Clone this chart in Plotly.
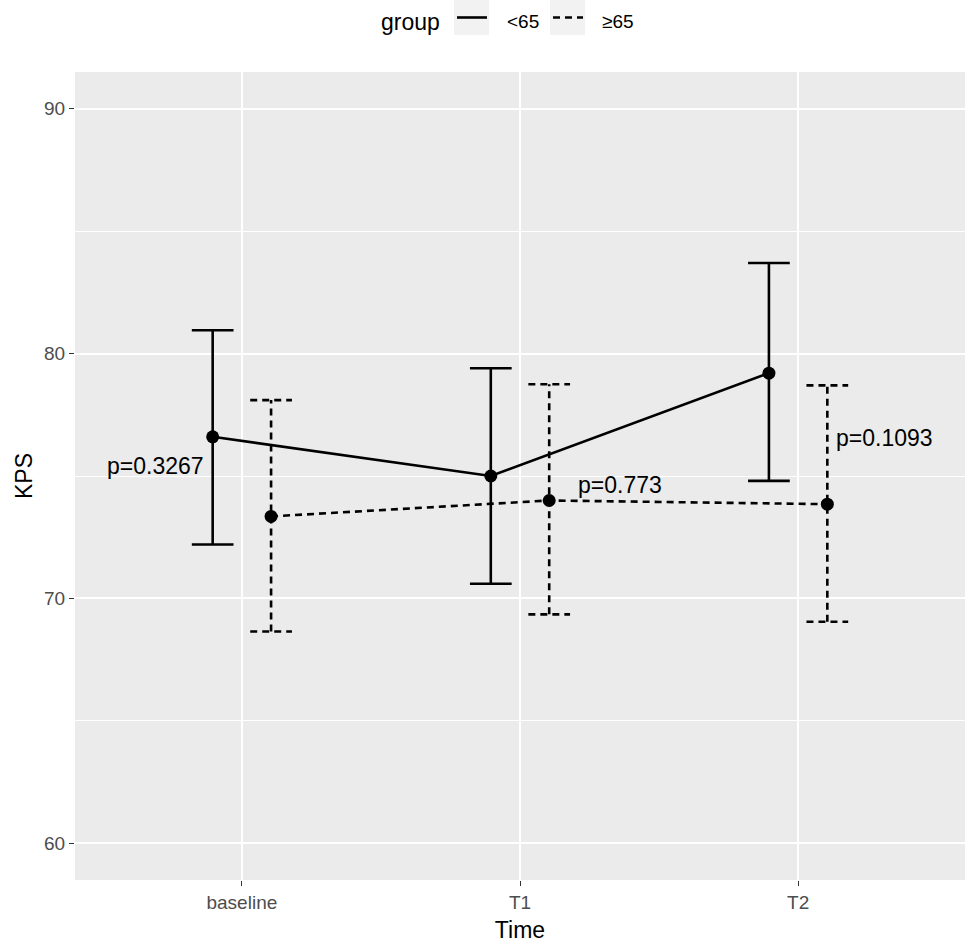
import plotly.graph_objects as go

# ---- data ----
time_labels = ["baseline", "T1", "T2"]
groups = ["<65", "≥65"]
mean_lt65 = [76.6, 75.0, 79.2]
upper_lt65 = [80.95, 79.4, 83.7]
lower_lt65 = [72.2, 70.6, 74.8]
mean_ge65 = [73.35, 74.0, 73.85]
upper_ge65 = [78.1, 78.75, 78.7]
lower_ge65 = [68.65, 69.35, 69.05]
p_labels = ["p=0.3267", "p=0.773", "p=0.1093"]
p_x = [0.69, 2.36, 3.31]
p_y = [75.4, 74.65, 76.55]
legend_title = "group"

dodge = 0.105
cap_half = 0.075
LW = 2.6
DASH = "7px,5px"
FONT = "Liberation Sans, Arial, sans-serif"

# plot-area geometry (pixels)
W, H = 969, 944
ML, MR, MT, MB = 75, 4, 72, 64
PW, PH = W - ML - MR, H - MT - MB


def px(xp):
    return (xp - ML) / PW


def py(yp):
    return (H - MB - yp) / PH


x_idx = [i + 1 for i in range(len(time_labels))]

fig = go.Figure()


def errorbar_xy(xs, lo, hi):
    ex, ey = [], []
    for x, l, h in zip(xs, lo, hi):
        ex += [x, x, None, x - cap_half, x + cap_half, None, x - cap_half, x + cap_half, None]
        ey += [l, h, None, h, h, None, l, l, None]
    return ex, ey


series = [
    (groups[0], mean_lt65, lower_lt65, upper_lt65, -dodge, "solid"),
    (groups[1], mean_ge65, lower_ge65, upper_ge65, dodge, DASH),
]

for name, m, lo, hi, off, dash in series:
    xs = [x + off for x in x_idx]
    ex, ey = errorbar_xy(xs, lo, hi)
    fig.add_trace(go.Scatter(x=ex, y=ey, mode="lines", showlegend=False,
                             line=dict(color="black", width=LW, dash=dash),
                             hoverinfo="skip"))
    fig.add_trace(go.Scatter(x=xs, y=m, mode="lines", name=name, showlegend=False,
                             line=dict(color="black", width=LW, dash=dash)))
    fig.add_trace(go.Scatter(x=xs, y=m, mode="markers", showlegend=False, name=name,
                             marker=dict(color="black", size=13)))

for t, x, y in zip(p_labels, p_x, p_y):
    fig.add_annotation(x=x, y=y, text=t, showarrow=False, xref="x", yref="y",
                       font=dict(size=23, color="black", family=FONT))

# ---- manual ggplot-style legend at the top ----
fig.add_annotation(x=px(379), y=py(22), xref="paper", yref="paper", text=legend_title,
                   showarrow=False, xanchor="left", yanchor="middle",
                   font=dict(size=23, color="black", family=FONT))
legend_items = [(groups[0], "solid", 454, 505), (groups[1], DASH, 550, 600)]
for label, dash, kx, tx in legend_items:
    fig.add_shape(type="rect", xref="paper", yref="paper",
                  x0=px(kx), x1=px(kx + 35), y0=py(35), y1=py(0),
                  fillcolor="#F2F2F2", line=dict(width=0), layer="below")
    fig.add_shape(type="line", xref="paper", yref="paper",
                  x0=px(kx + 3), x1=px(kx + 33), y0=py(17.5), y1=py(17.5),
                  line=dict(color="black", width=LW, dash=dash))
    fig.add_annotation(x=px(tx), y=py(21), xref="paper", yref="paper", text=label,
                       showarrow=False, xanchor="left", yanchor="middle",
                       font=dict(size=19, color="black", family=FONT))

fig.update_layout(
    width=W, height=H,
    margin=dict(l=ML, r=MR, t=MT, b=MB, autoexpand=False),
    paper_bgcolor="white",
    plot_bgcolor="#EBEBEB",
    font=dict(family=FONT, color="black"),
    showlegend=False,
    xaxis=dict(range=[0.4, 3.6], tickvals=x_idx, ticktext=time_labels,
               showgrid=True, gridcolor="white", gridwidth=1.6, zeroline=False,
               ticks="outside", ticklen=5, tickcolor="#333333", tickwidth=1.3,
               tickfont=dict(size=19, color="#4D4D4D"),
               title=dict(text="Time", font=dict(size=23, color="black"), standoff=10)),
    yaxis=dict(range=[58.5, 91.5], tickvals=[60, 70, 80, 90],
               showgrid=True, gridcolor="white", gridwidth=1.6, zeroline=False,
               ticks="outside", ticklen=5, tickcolor="#333333", tickwidth=1.3,
               tickfont=dict(size=19, color="#4D4D4D"),
               minor=dict(tickvals=[65, 75, 85], showgrid=True, gridcolor="white",
                          gridwidth=0.8, ticks=""),
               title=dict(text="KPS", font=dict(size=23, color="black"), standoff=5)),
)

fig.write_html("out.html", config={"displayModeBar": False},
               post_script="document.body.style.margin='0';document.body.style.overflow='hidden';")
